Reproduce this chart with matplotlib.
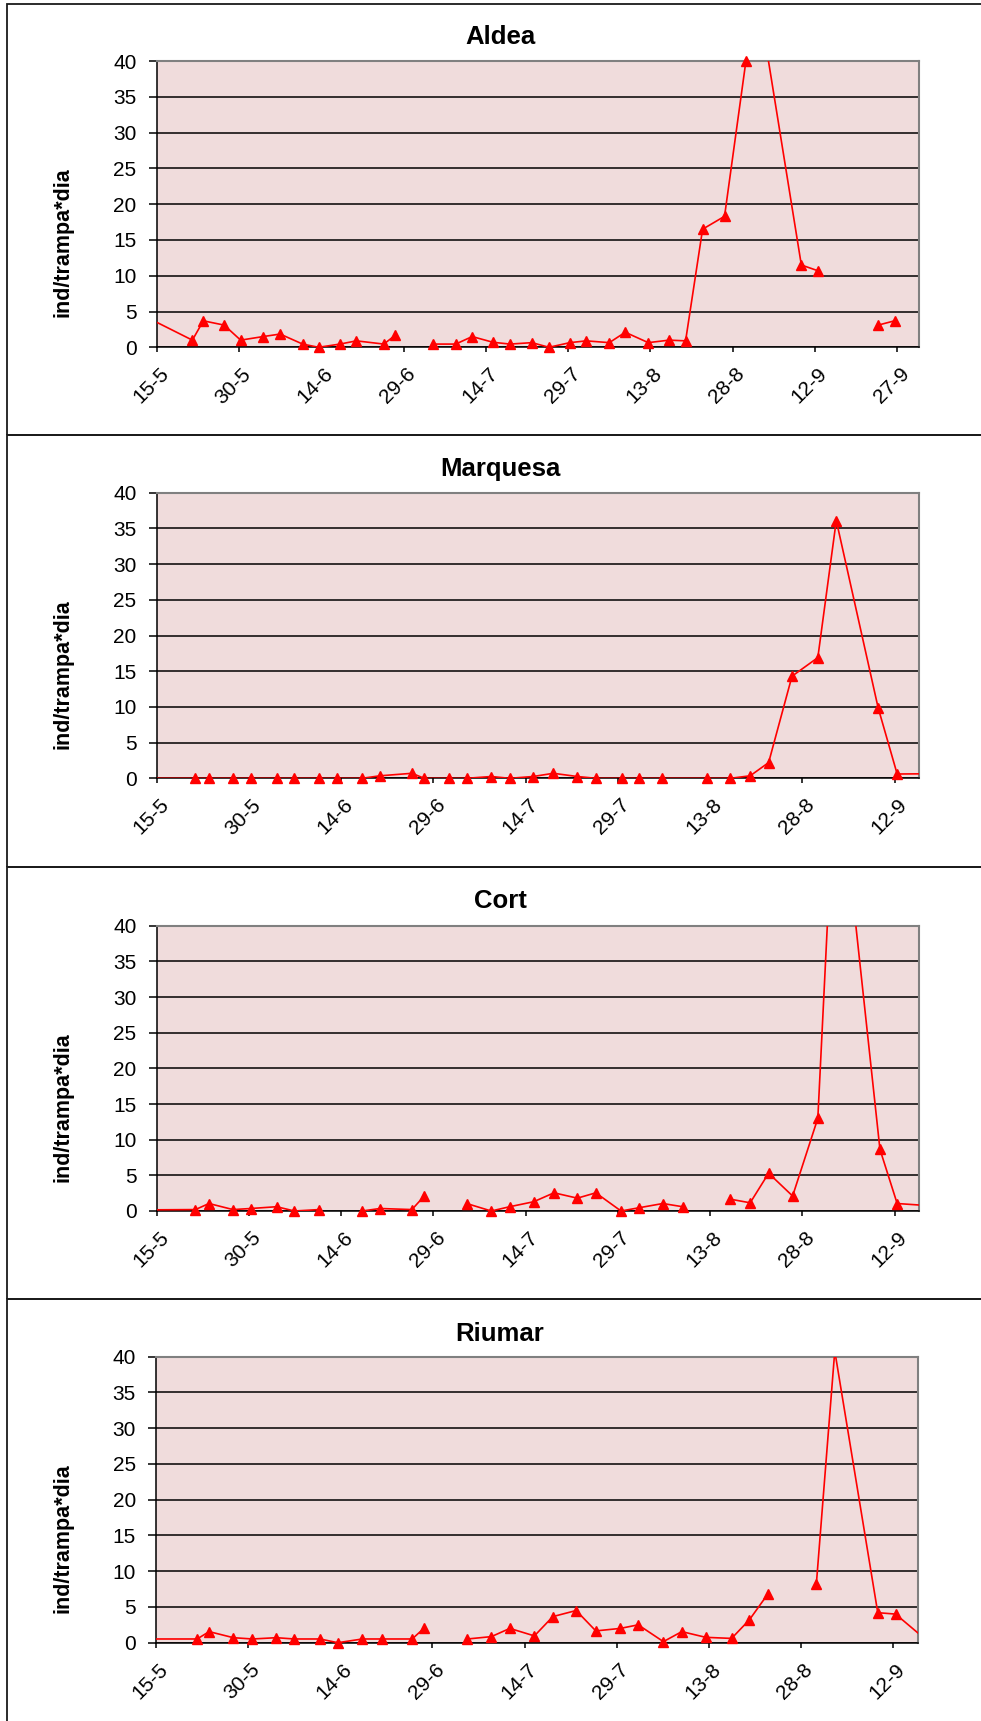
import numpy as np
import matplotlib
matplotlib.use('Agg')
import matplotlib.pyplot as plt
from matplotlib.patches import Rectangle
from matplotlib.transforms import ScaledTranslation

plt.rcParams['font.family'] = ['Liberation Sans', 'DejaVu Sans']

nan = np.nan

# days counted from 15-5; nan = no sample (line break)
aldea_days = [-3, 6.5, 8.5, 12.3, 15.3, 19.4, 22.5, 26.6, 29.5, 33.4, 36.4, 41.4, 43.5, 47,
              50.4, 54.5, 57.5, 61.3, 64.4, 68.4, 71.5, 75.3, 78.3, 82.5, 85.4, 89.6, 93.4,
              96.4, 99.5, 103.5, 107.4, 110.5, 117.5, 120.5, 124, 131.5, 134.5]
aldea_vals = [4.65, 1.0, 3.7, 3.1, 1.0, 1.5, 1.85, 0.45, 0.0, 0.45, 0.9, 0.45, 1.7, nan,
              0.45, 0.45, 1.5, 0.7, 0.45, 0.65, 0.0, 0.65, 0.9, 0.65, 2.1, 0.65, 1.0,
              0.9, 16.5, 18.3, 40.0, 44.8, 11.5, 10.7, nan, 3.1, 3.7]

marquesa_days = [-3, 6.3, 8.5, 12.4, 15.3, 19.5, 22.4, 26.4, 29.3, 33.4, 36.3, 41.5, 43.5,
                 47.5, 50.4, 54.4, 57.4, 61.2, 64.5, 68.4, 71.4, 75.6, 78.4, 82.2, 89.4,
                 93.3, 96.5, 99.5, 103.3, 107.5, 110.5, 117.3, 120.4, 128]
marquesa_vals = [0, 0, 0, 0, 0, 0, 0, 0, 0, 0, 0.35, 0.7, 0,
                 0, 0, 0.25, 0, 0.25, 0.7, 0.25, 0, 0, 0, 0, 0,
                 0, 0.35, 2.2, 14.3, 16.9, 36.1, 9.9, 0.6, 0.65]

cort_days = [-3, 6.3, 8.5, 12.4, 15.3, 19.5, 22.4, 26.4, 30, 33.4, 36.3, 41.5, 43.5, 47,
             50.4, 54.4, 57.4, 61.3, 64.6, 68.4, 71.4, 75.5, 78.4, 82.3, 85.5, 89.5, 93.3,
             96.5, 99.5, 103.4, 107.5, 110.5, 117.6, 120.4, 128]
cort_vals = [0.15, 0.2, 1.05, 0.2, 0.35, 0.6, 0.0, 0.2, nan, 0.0, 0.35, 0.2, 2.1, nan,
             1.05, 0.0, 0.6, 1.3, 2.55, 1.8, 2.55, 0.0, 0.45, 1.05, 0.6, nan, 1.65,
             1.15, 5.3, 2.1, 13.0, 65.5, 8.65, 1.05, 0.6]

riumar_days = [-3, 6.7, 8.65, 12.6, 15.7, 19.6, 22.5, 26.7, 29.6, 33.6, 36.8, 41.7, 43.6, 47,
               50.7, 54.6, 57.6, 61.6, 64.6, 68.4, 71.6, 75.6, 78.5, 82.6, 85.6, 89.5, 93.7,
               96.6, 99.6, 103.5, 107.5, 110.5, 117.5, 120.4, 124.4]
riumar_vals = [0.52, 0.52, 1.55, 0.7, 0.52, 0.7, 0.52, 0.52, 0.0, 0.52, 0.52, 0.52, 2.0, nan,
               0.52, 0.85, 2.0, 0.95, 3.65, 4.5, 1.65, 2.0, 2.5, 0.15, 1.55, 0.75, 0.6,
               3.2, 6.8, nan, 8.2, 40.8, 4.2, 4.0, 1.1]

ticks_long = ['15-5', '30-5', '14-6', '29-6', '14-7', '29-7', '13-8', '28-8', '12-9', '27-9']
ticks_short = ticks_long[:9]

W, H = 981, 1721
fig = plt.figure(figsize=(W / 100, H / 100), dpi=100)

# name, days, values, tick labels, x max, axes box (px: left, right, top, bottom), title baseline
panels = [
    ('Aldea', aldea_days, aldea_vals, ticks_long, 139, (156.7, 919.3, 61, 347.3), 44),
    ('Marquesa', marquesa_days, marquesa_vals, ticks_short, 124, (156.7, 919.3, 492.7, 778.3), 475.7),
    ('Cort', cort_days, cort_vals, ticks_short, 124, (156.7, 919.3, 925.7, 1211), 907.7),
    ('Riumar', riumar_days, riumar_vals, ticks_short, 124, (156, 917.7, 1356.7, 1642.7), 1341),
]
box_edges = [4, 435, 867, 1299, 1735]

for i, (name, days, vals, labels, xmax, (l, r, t, b), tb) in enumerate(panels):
    # chart area frame
    fig.add_artist(Rectangle((7.3 / W, 1 - box_edges[i + 1] / H), 1.2,
                             (box_edges[i + 1] - box_edges[i]) / H,
                             transform=fig.transFigure, fill=False,
                             ec='#1a1a1a', lw=1.3))
    ax = fig.add_axes([l / W, 1 - b / H, (r - l) / W, (b - t) / H])
    ax.set_facecolor('#F0DCDC')
    d = np.array(days, dtype=float)
    v = np.array(vals, dtype=float)
    ax.plot(d, v, color='#FF0000', lw=1.2, zorder=3)
    shown = (d >= 0) & (d <= xmax) & (v <= 40.5) & ~np.isnan(v)
    ax.plot(d[shown], v[shown], ls='none', marker='^', ms=7.5, color='#FF0000',
            mec='#FF0000', zorder=4, clip_on=False)
    ax.set_xlim(0, xmax)
    ax.set_ylim(0, 40)
    ax.set_yticks(np.arange(0, 41, 5))
    ax.yaxis.grid(True, color='black', lw=1.1)
    ax.set_axisbelow(True)
    ax.set_xticks(np.arange(len(labels)) * 15)
    ax.set_xticklabels(labels, rotation=45, ha='right', va='center',
                       rotation_mode='anchor')
    ax.tick_params(axis='x', length=3.6, width=1.1, pad=13.5, labelsize=15)
    ax.tick_params(axis='y', length=5.5, width=1.1, pad=9.0, labelsize=15)
    for lab in ax.get_xticklabels():
        lab.set_transform(lab.get_transform() + ScaledTranslation(0.09, 0, fig.dpi_scale_trans))
    for side in ['left', 'bottom']:
        ax.spines[side].set_color('black')
        ax.spines[side].set_linewidth(1.1)
    for side in ['top', 'right']:
        ax.spines[side].set_color('#808080')
        ax.spines[side].set_linewidth(1.5)
    ax.text((63 - l) / (r - l), 1 - 181.5 / (b - t), 'ind/trampa*dia', rotation=90,
            ha='center', va='center', fontsize=15.5, fontweight='bold',
            transform=ax.transAxes)
    fig.text(500 / W, 1 - tb / H, name, ha='center', va='baseline',
             fontsize=18.5, fontweight='bold')

fig.savefig('out.png', dpi=100, facecolor='white')
